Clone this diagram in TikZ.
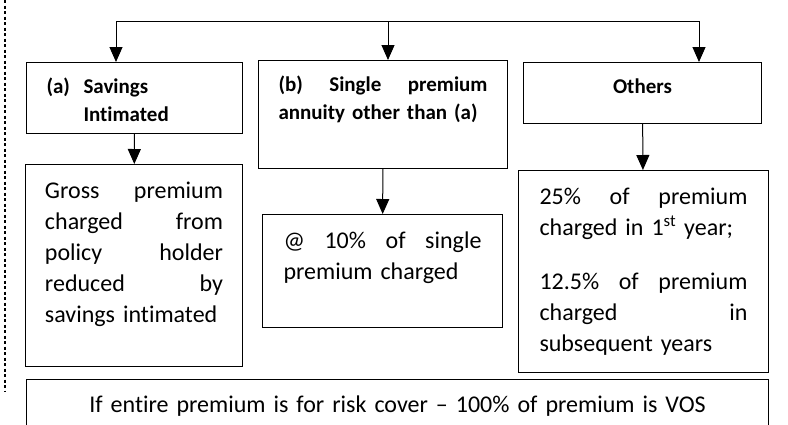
\documentclass[tikz,border=0pt]{standalone}
\usepackage{fontspec}
\setmainfont{Carlito}[Ligatures=NoCommon]
\usetikzlibrary{arrows.meta}

\begin{document}
\begin{tikzpicture}[x=1pt, y=-1pt, line width=1pt,
        box_style/.style={rectangle,draw=black,anchor=north west,align=left,inner xsep=20pt,inner ysep=8pt,text height=23pt},
        head_style/.style={box_style,font=\fontsize{21}{28}\selectfont\bfseries},
        body_style/.style={box_style,inner ysep=10pt,text height=24pt,font=\fontsize{24}{31}\selectfont},
        edge_style/.style={draw=black,-{Triangle[width=13pt,length=15pt]}}]

        \useasboundingbox (0,0) rectangle (788,424);
        \clip (0,0) rectangle (788,424);

        % left margin mark
        \draw [dash pattern=on 3pt off 2.5pt, line width=1.3pt] (5,0) -- (5,392);

        \node [head_style,text width=176pt,text depth=32pt](n1) at (26,62) {\makebox[37pt][l]{(a)}Savings\\\hspace*{37pt}Intimated};

        \node [head_style,text width=209pt,text depth=69pt](n2) at (258,60) {(b)\hfill Single\hfill premium\\annuity other than (a)};

        \node [head_style,text width=198pt,text depth=22pt,align=center](n3) at (523,62) {Others};

        \node [body_style,inner xsep=19.5pt,text width=178pt,text depth=158pt](n4) at (25,164) {Gross\hfill premium\\charged\hfill from\\policy\hfill holder\\reduced\hfill by\\savings intimated};

        \node [body_style,inner xsep=21pt,text width=198pt,text depth=69pt](n5) at (262,214) {@\hfill 10\%\hfill of\hfill single\\premium charged};

        \node [body_style,inner xsep=21pt,text width=208pt,text depth=158pt](n6) at (518,170) {25\%\hfill of\hfill premium\\charged in 1\textsuperscript{st} year;\\[23pt]12.5\%\hfill of\hfill premium\\charged\hfill in\\subsequent years};

        \node [body_style,text width=702pt,text height=23pt,text depth=30pt,align=center](n7) at (26,379) {If entire premium is for risk cover -- 100\% of premium is VOS};

        \coordinate (c1) at (116,21);
        \coordinate (c2) at (388,21);
        \coordinate (c3) at (699,21);

        \draw (c1) -- (c3);

        \draw [edge_style] (c1) -- (c1 |- n1.north);

        \draw [edge_style] (c2) -- (c2 |- n2.north);

        \draw [edge_style] (c3) -- (c3 |- n3.north);

        \draw [edge_style] (n1) edge (n4);

        \draw [edge_style] (n2) edge (n5);

        \draw [edge_style] (n3) edge (n6);

        \end{tikzpicture}
\end{document}
